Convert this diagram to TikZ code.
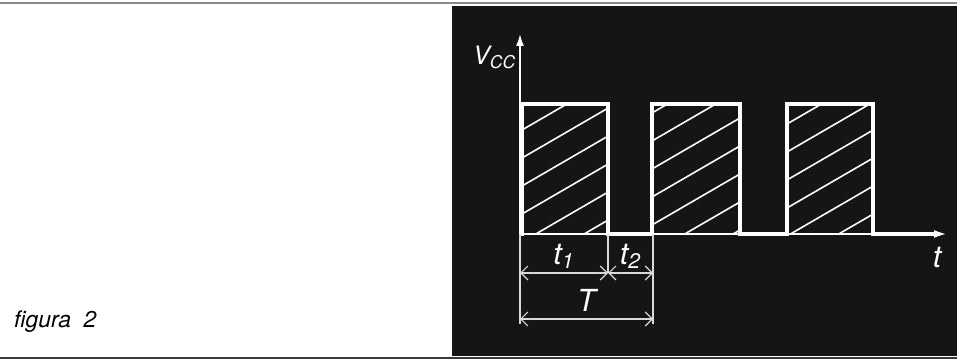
\documentclass[tikz,border=0pt]{standalone}
\usepackage{fontspec}
\setsansfont{TeX Gyre Heros}
\usetikzlibrary{arrows.meta, positioning, calc}
\definecolor{panel}{HTML}{151515}
\definecolor{rule}{HTML}{3A3A3A}

\begin{document}
\begin{tikzpicture}[x=0.02cm, y=0.02cm, font=\sffamily\itshape, >={Latex[length=2.6mm, width=1.6mm]},
    wave/.style={draw=white, line width=1.8pt, line join=miter},
    hatch/.style={draw=white, line width=0.9pt},
    dim/.style={draw=white!85!black, line width=0.7pt},
    dimarrow/.style={dim, {Straight Barb[length=1.4mm]}-{Straight Barb[length=1.4mm]}},
    lbl/.style={text=white, inner sep=1pt, font=\sffamily\itshape\LARGE}]
  \useasboundingbox (0,0) rectangle (957,361);

  % page rules and the dark panel
  \fill[panel] (452,5) rectangle (957,355);
  \draw[rule!60, line width=1pt] (0,358) -- (957,358);
  \draw[rule, line width=1pt] (0,3) -- (957,3);

  % axes
  \coordinate (O) at (520,127);
  \coordinate (ytop) at (520,328);
  \coordinate (xend) at (947,127);
  \draw[->, white, line width=1.4pt] (O) -- (ytop);
  \draw[->, white, line width=1.4pt] (O) -- (xend);
  \node[lbl, font=\sffamily\itshape\Large, left=1pt of ytop, yshift=-14pt] (vcc) {V\textsubscript{CC}};
  \node[lbl] (t) at (937,104) {t};

  % hatching of the pulses
  \foreach \xa/\xb/\off in {522/608/20, 652/740/9, 787/873/26} {
    \begin{scope}
      \clip (\xa,127) rectangle (\xb,257);
      \foreach \k in {-8,...,5}
        \draw[hatch] (\xa,127+\off+28*\k) -- ++(200,116);
    \end{scope}
  }

  % the pulse train
  \draw[wave] (O) -- (522,127) -- (522,257) -- (608,257) -- (608,127)
    -- (652,127) -- (652,257) -- (740,257) -- (740,127)
    -- (787,127) -- (787,257) -- (873,257) -- (873,127) -- (940,127);

  % dimensions
  \coordinate (d0) at (520,88);
  \coordinate (d1) at (608,88);
  \coordinate (d2) at (653,88);
  \coordinate (e0) at (520,42);
  \coordinate (e2) at (653,42);
  \draw[dim] (O) -- (520,37);
  \draw[dim] (608,127) -- (d1);
  \draw[dim] (653,127) -- (653,37);
  \draw[dimarrow] (d0) -- node[lbl, above=1pt] (t1) {t\textsubscript{1}} (d1);
  \draw[dimarrow] (d1) -- node[lbl, above=1pt] (t2) {t\textsubscript{2}} (d2);
  \draw[dimarrow] (e0) -- node[lbl, above=3pt] (T) {T} (e2);

  % caption
  \node[anchor=west, font=\sffamily\itshape\fontsize{13}{15}\selectfont] (cap) at (8,39) {figura\ \ 2};
\end{tikzpicture}
\end{document}
